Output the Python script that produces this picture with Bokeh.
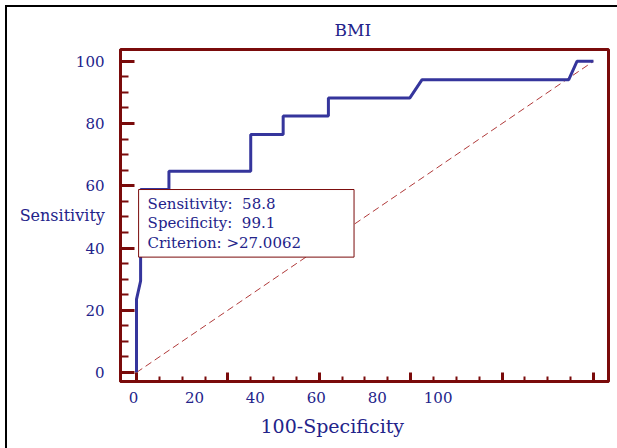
from bokeh.plotting import figure
from bokeh.models import (Range1d, LinearAxis, FixedTicker, Label, Title, CustomLabelingPolicy)
from bokeh.embed import file_html
from bokeh.resources import INLINE

# ROC curve for BMI (x = 100-Specificity, y = Sensitivity)
roc_x = [0, 0, 0.9, 0.9, 7.1, 7.1, 25.0, 25.0, 32.1, 32.1, 42.0, 42.0, 59.8, 62.5, 94.6, 96.4, 100]
roc_y = [0, 23.5, 29.4, 58.8, 58.8, 64.7, 64.7, 76.5, 76.5, 82.4, 82.4, 88.2, 88.2, 94.1, 94.1, 100, 100]
diag_x = [0, 100]
diag_y = [0, 100]
crit_x = 0.9
crit_y = 58.8
box_lines = ["Sensitivity:\u00a0 58.8", "Specificity:\u00a0 99.1", "Criterion: >27.0062"]
major_ticks = [0, 20, 40, 60, 80, 100]
minor_ticks = list(range(0, 101, 5))
x_labels = ["0", "20", "40", "60", "80", "100"]

NAVY = "#23238a"
LINE = "#35359c"
MAROON = "#7a0b0b"
DASH = "#b03a3a"
FONT = "DejaVu Serif"

p = figure(width=610, height=441, output_backend="svg", toolbar_location=None,
           x_range=Range1d(-3.5, 103.3), y_range=Range1d(-2.9, 103.8),
           x_axis_location=None, y_axis_location=None,
           min_border_left=113, min_border_right=9, min_border_top=40, min_border_bottom=67,
           styles={"margin-left": "7px", "margin-top": "7px",
                   "outline": "2px solid black"})
p.grid.visible = False
p.outline_line_color = MAROON
p.outline_line_width = 3
p.background_fill_color = "white"
p.border_fill_color = "white"

p.title.text = "BMI"
p.title.align = "left"
p.title.offset = 214
p.title.vertical_align = "bottom"
p.title.standoff = 20
p.title.text_font = FONT
p.title.text_font_style = "normal"
p.title.text_font_size = "17px"
p.title.text_color = NAVY

# left axis
yax = LinearAxis(ticker=FixedTicker(ticks=major_ticks, minor_ticks=minor_ticks))
yax.axis_line_color = MAROON
yax.axis_line_width = 3
yax.major_tick_line_color = MAROON
yax.major_tick_line_width = 3
yax.major_tick_in = 14
yax.major_tick_out = 0
yax.minor_tick_line_color = MAROON
yax.minor_tick_line_width = 2
yax.minor_tick_in = 8
yax.minor_tick_out = 0
yax.major_label_text_font = FONT
yax.major_label_text_font_size = "15px"
yax.major_label_text_color = NAVY
yax.major_label_standoff = 16
yax.axis_label = "Sensitivity"
yax.axis_label_orientation = "horizontal"
yax.axis_label_standoff = -32
yax.axis_label_text_font = FONT
yax.axis_label_text_font_size = "16px"
yax.axis_label_text_font_style = "normal"
yax.axis_label_text_color = NAVY
p.add_layout(yax, "left")

# bottom axis: tick marks only
xax = LinearAxis(ticker=FixedTicker(ticks=major_ticks, minor_ticks=minor_ticks),
                 major_label_policy=CustomLabelingPolicy(
                     code="const all = [...indices]; for (const i of all) indices.unset(i); return indices"))
xax.axis_line_color = MAROON
xax.axis_line_width = 3
xax.major_tick_line_color = MAROON
xax.major_tick_line_width = 3
xax.major_tick_in = 9
xax.major_tick_out = 0
xax.minor_tick_line_color = MAROON
xax.minor_tick_line_width = 2
xax.minor_tick_in = 5
xax.minor_tick_out = 0
xax.major_label_text_font_size = "1px"
xax.major_label_standoff = 0
p.add_layout(xax, "below")

# bottom axis: tick labels (as laid out in the original, on a 0-150 scale)
p.extra_x_ranges = {"lab": Range1d(-4.27, 155.93)}
lax = LinearAxis(x_range_name="lab", ticker=FixedTicker(ticks=major_ticks, minor_ticks=[]),
                 major_label_overrides={t: s for t, s in zip(major_ticks, x_labels)})
lax.axis_line_color = None
lax.major_tick_line_color = None
lax.minor_tick_line_color = None
lax.major_label_text_font = FONT
lax.major_label_text_font_size = "15px"
lax.major_label_text_color = NAVY
lax.major_label_standoff = 0
p.add_layout(lax, "below")

xt = Title(text="100-Specificity", align="left", offset=140, standoff=14, text_font=FONT,
           text_font_size="19px", text_font_style="normal", text_color=NAVY)
p.add_layout(xt, "below")

p.line(diag_x, diag_y, line_color=DASH, line_width=1, line_dash="7 4")
p.line(roc_x, roc_y, line_color=LINE, line_width=3)

box = Label(x=crit_x, y=crit_y, x_offset=-2, text="\n".join(box_lines), anchor="top_left",
            text_font=FONT, text_font_size="15px", text_color=NAVY, text_line_height=1.1,
            border_line_color=MAROON, border_line_width=1, background_fill_color="white",
            padding=dict(left=9, right=53, top=5, bottom=5))
p.add_layout(box)

open("out.html", "w").write(file_html(p, INLINE))
